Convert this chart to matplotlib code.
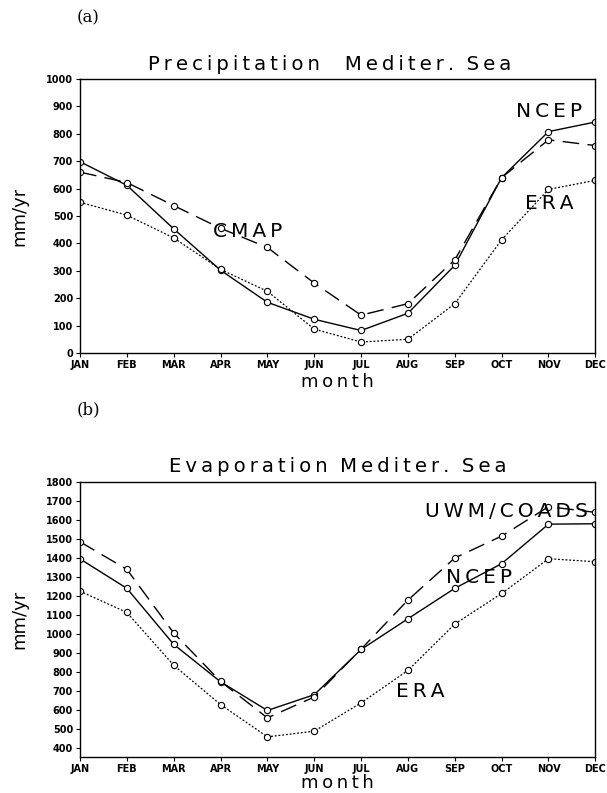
import matplotlib
matplotlib.use("Agg")
import matplotlib.pyplot as plt

months = ["JAN", "FEB", "MAR", "APR", "MAY", "JUN",
          "JUL", "AUG", "SEP", "OCT", "NOV", "DEC"]

# (a) precipitation, mm/yr
prec_ncep = [698, 612, 453, 302, 185, 123, 82, 145, 320, 640, 808, 843]
prec_cmap = [660, 622, 538, 455, 385, 255, 138, 180, 340, 640, 778, 757]
prec_era = [550, 503, 420, 305, 225, 87, 40, 50, 180, 413, 597, 630]

# (b) evaporation, mm/yr
evap_uwm = [1485, 1340, 1005, 750, 558, 668, 920, 1178, 1400, 1515, 1670, 1640]
evap_ncep = [1395, 1240, 945, 748, 597, 680, 918, 1080, 1240, 1370, 1578, 1580]
evap_era = [1225, 1113, 835, 628, 458, 488, 637, 808, 1052, 1213, 1396, 1380]

x = list(range(len(months)))


def wide(s):
    # old plotting-package look: letters spread apart with thin spaces
    return "\u2009".join(s)


fig = plt.figure(figsize=(6.07, 7.93), dpi=100)
ax1 = fig.add_axes([0.1318, 0.5549, 0.849, 0.3455])
ax2 = fig.add_axes([0.1318, 0.0454, 0.849, 0.3468])

mk = dict(marker="o", ms=4.5, mfc="white", mec="black", mew=0.8, color="black")


def style(ax, ylo, yhi, ticks, title, title_x, xpad):
    ax.set_xlim(0, 11)
    ax.set_ylim(ylo, yhi)
    ax.set_xticks(x)
    ax.set_xticklabels(months, fontsize=7, fontweight="bold")
    ax.set_yticks(ticks)
    ax.set_yticklabels([str(t) for t in ticks], fontsize=7, fontweight="bold")
    ax.tick_params(direction="out", length=3, width=0.8, pad=2)
    for s in ax.spines.values():
        s.set_linewidth(1.0)
    ax.set_xlabel(wide("month"), fontsize=13, labelpad=xpad)
    ax.set_ylabel("mm/yr", fontsize=13, labelpad=13)
    ax.text(title_x, 1.02, title, transform=ax.transAxes, fontsize=14.2,
            ha="center", va="bottom")


# panel (a)
ax1.plot(x, prec_ncep, ls="-", lw=1.0, **mk)
ax1.plot(x, prec_cmap, lw=1.0, dashes=(12, 6), **mk)
ax1.plot(x, prec_era, lw=0.9, dashes=(1.5, 1.5), **mk)
style(ax1, 0, 1000, list(range(0, 1001, 100)),
      wide("Precipitation") + "    " + wide("Mediter.") + "  " + wide("Sea"),
      0.485, 2)
ax1.text(2.84, 442, wide("CMAP"), fontsize=14.5, va="center", ha="left")
ax1.text(9.3, 883, wide("NCEP"), fontsize=14.5, va="center", ha="left")
ax1.text(9.5, 544, wide("ERA"), fontsize=14.5, va="center", ha="left")

# panel (b)
ax2.plot(x, evap_ncep, ls="-", lw=1.0, **mk)
ax2.plot(x, evap_uwm, lw=1.0, dashes=(12, 6), **mk)
ax2.plot(x, evap_era, lw=0.9, dashes=(1.5, 1.5), **mk)
style(ax2, 352, 1800, list(range(400, 1801, 100)),
      wide("Evaporation") + "  " + wide("Mediter.") + "  " + wide("Sea"),
      0.5, 0)
ax2.text(7.37, 1647, wide("UWM/COADS"), fontsize=14.5, va="center", ha="left")
ax2.text(7.82, 1295, wide("NCEP"), fontsize=14.5, va="center", ha="left")
ax2.text(6.75, 695, wide("ERA"), fontsize=14.5, va="center", ha="left")

fig.text(88 / 607, 1 - 18 / 793, "(a)", family="DejaVu Serif", fontsize=12,
         ha="center", va="center")
fig.text(88 / 607, 1 - 410 / 793, "(b)", family="DejaVu Serif", fontsize=12,
         ha="center", va="center")

fig.savefig("out.png", dpi=100)
